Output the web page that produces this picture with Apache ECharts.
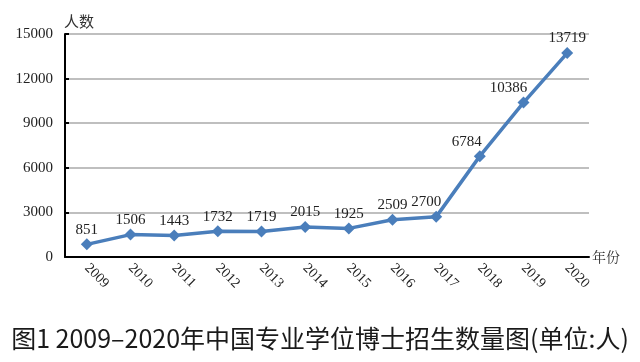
<!DOCTYPE html>
<html><head><meta charset="utf-8">
<script src="https://cdn.jsdelivr.net/npm/echarts@6/dist/echarts.min.js"></script>
<style>html,body{margin:0;padding:0;background:#fff}#c{width:640px;height:362px}</style>
</head><body><div id="c"></div>
<script>
const years = ['2009','2010','2011','2012','2013','2014','2015','2016','2017','2018','2019','2020'];
const counts = [851,1506,1443,1732,1719,2015,1925,2509,2700,6784,10386,13719];
const yTicks = [0,3000,6000,9000,12000,15000];
const titleText = '图1 2009–2020年中国专业学位博士招生数量图(单位:人)';
// horizontal label nudges (px) so labels sit left of the steep segment
const labelShiftX = [0,0,0,0,0,0,0,0,-10,-13,-15,0];

const chart = echarts.init(document.getElementById('c'));
const serif = '"Liberation Serif","DejaVu Serif",serif';
chart.setOption({
  animation:false,
  title:{text:titleText,left:'center',top:321,textStyle:{fontFamily:'"Noto Sans CJK SC",sans-serif',fontSize:25,fontWeight:'normal',color:'#1a1a1a'}},
  grid:{left:65,right:51,top:34,bottom:105},
  xAxis:{type:'category',data:years,boundaryGap:true,
    name:'年份',nameLocation:'end',nameGap:3,nameTextStyle:{fontFamily:'"Noto Serif CJK SC","Noto Sans CJK SC",serif',fontSize:14,color:'#333',verticalAlign:'middle'},
    axisLine:{lineStyle:{color:'#000',width:2}},
    axisTick:{inside:true,length:4,lineStyle:{color:'#000',width:2}},
    axisLabel:{rotate:-45,interval:0,fontFamily:serif,fontSize:14,color:'#222',margin:9}},
  yAxis:{type:'value',min:0,max:15000,interval:3000,
    name:'人数',nameLocation:'end',nameGap:5,nameTextStyle:{fontFamily:'"Noto Sans CJK SC",serif',fontSize:15,color:'#333',align:'left',padding:[0,0,0,-1]},
    axisLine:{show:true,lineStyle:{color:'#000',width:2}},
    axisTick:{show:true,inside:true,length:4,lineStyle:{color:'#000',width:2}},
    axisLabel:{fontFamily:serif,fontSize:15,color:'#222',margin:12,
      formatter:v=>yTicks.includes(v)?String(v):''},
    splitLine:{lineStyle:{color:'#aaa',width:1.5}}},
  series:[{type:'line',
    data:counts.map((v,i)=>({value:v,label:{offset:[labelShiftX[i],0]}})),
    symbol:'diamond',symbolSize:12,
    lineStyle:{color:'#4a7ebb',width:3.5},itemStyle:{color:'#4a7ebb'},
    label:{show:true,position:'top',distance:1,fontFamily:serif,fontSize:15,color:'#222'}}]
});
</script></body></html>
